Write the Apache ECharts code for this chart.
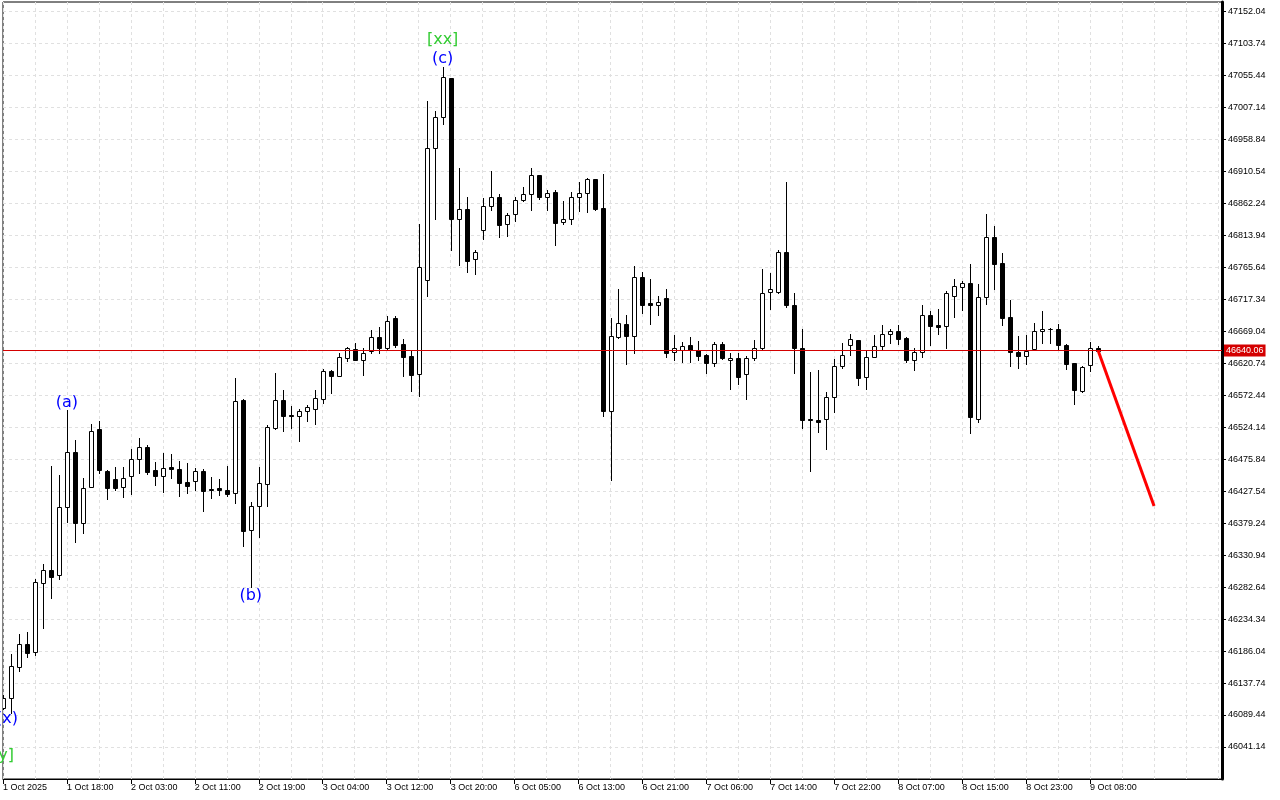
<!DOCTYPE html>
<html>
<head>
<meta charset="utf-8">
<script src="https://cdn.jsdelivr.net/npm/echarts@6/dist/echarts.min.js"></script>
<style>
html,body{margin:0;padding:0;background:#fff;}
#chart{width:1280px;height:800px;}
</style>
</head>
<body>
<div id="chart"></div>
<script>
// ---- DATA (hourly candles, index 0 = 1 Oct 2025 10:00) ----
const openP = [
46100.0,46115.1,46162.0,46196.7,46184.6,46288.9,46308.5,46301.0,46403.7,46486.8,
46379.5,46433.9,46521.5,46458.1,46446.0,46433.9,46450.5,46476.2,46494.3,46459.6,
46450.5,46463.4,46461.1,46441.5,46443.0,46458.1,46430.9,46432.4,46429.4,46424.9,
46565.4,46369.0,46405.2,46438.4,46523.1,46565.4,46543.4,46541.9,46548.7,46551.8,
46566.9,46609.2,46601.6,46628.8,46642.4,46625.8,46639.4,46660.5,46643.9,46689.2,
46650.0,46631.8,46604.6,46746.6,46946.1,46992.9,47051.8,46838.8,46853.9,46778.4,
46822.2,46858.5,46872.0,46831.3,46846.4,46867.5,46876.6,46905.3,46872.0,46879.6,
46834.3,46838.8,46872.0,46878.1,46899.2,46855.4,46548.7,46660.5,46680.2,46662.0,
46751.2,46711.9,46708.9,46719.5,46637.9,46640.9,46648.4,46640.9,46633.3,46621.3,
46650.0,46625.8,46628.8,46604.6,46628.8,46643.9,46728.5,46728.5,46789.0,46708.9,
46643.9,46536.6,46535.1,46536.6,46569.9,46616.7,46648.4,46656.0,46600.1,46630.3,
46646.9,46665.1,46669.6,46659.0,46625.8,46637.9,46693.8,46678.7,46677.2,46722.5,
46736.1,46742.1,46536.6,46721.0,46811.6,46772.3,46690.8,46637.9,46631.8,46642.4,
46669.6,46672.6,46672.6,46648.4,46621.3,46579.0,46618.2,46643.2
];
const closeP = [
46115.1,46163.5,46196.7,46183.1,46290.4,46308.5,46297.9,46403.7,46486.8,46379.5,
46432.4,46518.5,46459.6,46432.4,46432.4,46447.5,46476.2,46494.3,46456.6,46450.5,
46462.6,46460.4,46440.0,46435.4,46458.1,46427.9,46429.4,46429.4,46423.3,46563.8,
46367.4,46405.2,46440.0,46524.6,46565.4,46541.2,46541.9,46548.7,46554.8,46568.4,
46609.2,46601.6,46630.3,46643.9,46625.8,46636.4,46660.5,46643.9,46684.7,46648.4,
46630.3,46603.1,46766.3,46946.1,46992.9,47053.3,46838.8,46853.9,46775.4,46789.0,
46858.5,46872.0,46829.7,46844.9,46867.5,46876.6,46905.3,46872.0,46878.1,46832.8,
46838.8,46872.0,46878.1,46899.2,46853.9,46548.7,46662.0,46681.7,46662.0,46751.2,
46708.9,46708.9,46713.4,46636.4,46643.9,46646.9,46640.9,46631.8,46621.3,46650.0,
46628.8,46628.8,46600.1,46628.8,46643.9,46727.0,46733.1,46789.0,46708.9,46643.9,
46535.1,46535.1,46532.1,46569.9,46616.7,46633.3,46657.5,46598.6,46630.3,46646.9,
46665.1,46669.6,46657.5,46625.8,46637.9,46693.8,46677.2,46675.6,46727.0,46737.6,
46742.1,46539.7,46721.0,46811.6,46770.8,46689.2,46637.9,46631.8,46639.4,46669.6,
46672.6,46671.9,46648.4,46619.7,46580.5,46615.2,46643.9,46640.06
];
const highP = [
46119.7,46181.6,46211.8,46214.8,46294.9,46317.6,46465.6,46452.0,46550.2,46504.9,
46447.5,46529.1,46533.6,46459.6,46464.1,46464.1,46491.3,46507.9,46497.4,46471.7,
46485.3,46483.8,46473.2,46470.2,46462.6,46461.1,46449.0,46446.0,46465.6,46598.6,
46566.9,46411.3,46464.1,46527.6,46606.1,46580.5,46556.3,46551.8,46557.8,46580.5,
46612.2,46610.7,46636.4,46645.4,46651.5,46643.9,46671.1,46675.6,46692.3,46692.3,
46657.5,46640.9,46831.3,47017.1,47002.0,47068.5,47051.8,46915.9,46872.0,46792.0,
46870.5,46911.3,46876.6,46847.9,46872.0,46887.2,46915.9,46905.3,46882.6,46882.6,
46866.0,46879.6,46894.7,46900.8,46899.2,46906.8,46689.2,46733.1,46693.8,46767.8,
46758.7,46748.2,46722.5,46733.1,46663.6,46653.0,46660.5,46654.5,46634.9,46653.0,
46653.0,46636.4,46636.4,46631.8,46656.0,46763.3,46757.2,46792.0,46894.7,46727.0,
46672.6,46607.7,46610.7,46577.4,46627.3,46651.5,46665.1,46656.0,46640.9,46663.6,
46678.7,46672.6,46678.7,46660.5,46643.9,46708.9,46699.8,46702.8,46730.0,46748.2,
46745.1,46770.8,46740.6,46846.4,46828.2,46787.4,46716.4,46662.0,46663.6,46681.7,
46699.8,46673.4,46680.2,46650.0,46621.3,46616.7,46653.0,46646.9
];
const lowP = [
46098.5,46092.5,46155.9,46177.1,46180.1,46220.9,46266.2,46294.9,46381.0,46350.8,
46364.4,46433.9,46455.1,46415.8,46429.4,46418.8,46423.3,46455.1,46453.6,46436.9,
46426.4,46447.5,46420.3,46424.9,46429.4,46397.7,46417.3,46421.8,46420.3,46409.7,
46344.8,46282.8,46358.4,46405.2,46521.5,46518.5,46523.1,46503.4,46533.6,46529.1,
46560.8,46575.9,46601.6,46624.3,46625.8,46603.1,46636.4,46636.4,46640.9,46645.4,
46601.6,46579.0,46571.4,46722.5,46838.8,46982.3,46792.0,46769.3,46758.7,46755.7,
46808.6,46852.4,46811.6,46813.1,46835.8,46866.0,46852.4,46869.0,46852.4,46799.5,
46831.3,46831.3,46850.9,46849.4,46852.4,46541.2,46444.5,46659.0,46619.7,46636.4,
46696.8,46680.2,46693.8,46630.3,46625.8,46622.8,46622.8,46625.8,46606.1,46616.7,
46627.3,46582.0,46589.5,46566.9,46625.8,46642.4,46702.8,46727.0,46705.9,46606.1,
46523.1,46458.1,46517.0,46491.3,46547.2,46613.7,46633.3,46588.0,46582.0,46630.3,
46640.9,46651.5,46650.0,46622.8,46610.7,46630.3,46648.4,46665.1,46643.9,46690.8,
46701.3,46515.5,46532.1,46710.4,46733.1,46678.7,46616.7,46613.7,46619.7,46640.9,
46651.5,46651.5,46640.9,46612.2,46559.3,46577.4,46609.2,46640.06
];
const xLabels = ["1 Oct 2025","1 Oct 18:00","2 Oct 03:00","2 Oct 11:00","2 Oct 19:00","3 Oct 04:00",
  "3 Oct 12:00","3 Oct 20:00","6 Oct 05:00","6 Oct 13:00","6 Oct 21:00","7 Oct 06:00","7 Oct 14:00",
  "7 Oct 22:00","8 Oct 07:00","8 Oct 15:00","8 Oct 23:00","9 Oct 08:00"];
const xLabelIndex = [0,8,16,24,32,40,48,56,64,72,80,88,96,104,112,120,128,136];
const yTicks = [46041.14,46089.44,46137.74,46186.04,46234.34,46282.64,46330.94,46379.24,46427.54,
  46475.84,46524.14,46572.44,46620.74,46669.04,46717.34,46765.64,46813.94,46862.24,46910.54,
  46958.84,47007.14,47055.44,47103.74,47152.04];
const lastPrice = 46640.06;
const forecastIdx = [137, 144];
const forecastPrice = [46640.06, 46405.2];
const waveText = ["(x)", "[y]", "(a)", "(b)", "(c)", "[xx]"];
const waveIdx = [0, 0, 8, 31, 55, 55];
const waveAnchor = ["low", "low", "high", "low", "high", "high"];

// ---- styling for wave labels (screen offsets, colours) ----
const BLUE = '#0000ff', GREEN = '#33cc33';
const waveLook = {
  "(x)": {dx: 4, dy: 10, color: BLUE},
  "[y]": {dx: 0, dy: 47, color: GREEN},
  "(a)": {dx: 0, dy: -7, color: BLUE},
  "(b)": {dx: 0, dy: 9, color: BLUE},
  "(c)": {dx: 0, dy: -8, color: BLUE},
  "[xx]": {dx: 0, dy: -27, color: GREEN}
};

const candleData = openP.map((o, i) => [i, o, closeP[i], lowP[i], highP[i]]);
const waveData = waveText.map((t, k) => {
  const i = waveIdx[k];
  return { name: t, value: [i, waveAnchor[k] === 'high' ? highP[i] : lowP[i]] };
});
const forecastData = forecastIdx.map((x, k) => [x, forecastPrice[k]]);

const Y_MIN = 45992.76, Y_MAX = 47166.65;
const X_MIN = 0, X_MAX = 152.5;

function renderCandle(params, api) {
  const i = api.value(0), o = api.value(1), c = api.value(2), l = api.value(3), h = api.value(4);
  const po = api.coord([i, o]), pc = api.coord([i, c]);
  const ph = api.coord([i, h]), pl = api.coord([i, l]);
  const x = Math.round(po[0]) + 0.5;
  const top = Math.round(Math.min(po[1], pc[1])) + 0.5;
  const bot = Math.round(Math.max(po[1], pc[1])) + 0.5;
  const bull = c >= o;
  return {
    type: 'group',
    children: [
      { type: 'line', shape: { x1: x, y1: Math.round(ph[1]), x2: x, y2: Math.round(pl[1]) + 1 },
        style: { stroke: '#000', lineWidth: 1 } },
      { type: 'rect', shape: { x: x - 2, y: top, width: 4, height: Math.max(bot - top, 0) },
        style: { fill: bull ? '#fff' : '#000', stroke: '#000', lineWidth: 1 } }
    ]
  };
}

function renderWave(params, api) {
  const name = waveData[params.dataIndex].name;
  const look = waveLook[name];
  const p = api.coord([api.value(0), api.value(1)]);
  return {
    type: 'text',
    x: p[0] + look.dx,
    y: p[1] + look.dy,
    style: {
      text: name, fill: look.color,
      font: '16px "DejaVu Sans"',
      align: 'center', verticalAlign: 'middle'
    }
  };
}

const gridLine = { show: true, lineStyle: { color: '#e0e0e0', width: 1, type: [3, 3] } };

const option = {
  animation: false,
  backgroundColor: '#fff',
  grid: { left: 2, right: 58, top: 2, bottom: 21, show: true, borderColor: '#000', borderWidth: 1, backgroundColor: '#fff' },
  xAxis: [
    {
      type: 'value', min: X_MIN, max: X_MAX, position: 'bottom',
      axisLine: { show: true, onZero: false, lineStyle: { color: '#000', width: 1 } },
      axisTick: { show: true, customValues: xLabelIndex, length: 5, lineStyle: { color: '#000' } },
      axisLabel: {
        customValues: xLabelIndex,
        formatter: v => xLabels[xLabelIndex.indexOf(Math.round(v))],
        align: 'left', color: '#000', fontFamily: 'Liberation Sans', fontSize: 9, margin: 4
      },
      splitLine: { show: false }
    },
    {
      type: 'value', min: X_MIN, max: X_MAX, interval: 4, position: 'bottom',
      axisLine: { show: false, onZero: false }, axisTick: { show: false }, axisLabel: { show: false },
      splitLine: gridLine
    }
  ],
  yAxis: {
    type: 'value', position: 'right', min: Y_MIN, max: Y_MAX, scale: true,
    axisLine: { show: true, onZero: false, lineStyle: { color: '#000', width: 3 } },
    axisTick: { show: true, customValues: yTicks, length: 4, lineStyle: { color: '#000' } },
    axisLabel: {
      customValues: yTicks, formatter: v => Number(v).toFixed(2),
      color: '#000', fontFamily: 'Liberation Sans', fontSize: 9, margin: 6
    },
    splitLine: gridLine
  },
  series: [
    {
      type: 'custom', name: 'candles', xAxisIndex: 0, yAxisIndex: 0,
      renderItem: renderCandle, data: candleData, clip: true, z: 3,
      encode: { x: 0, y: [1, 2, 3, 4] }
    },
    {
      type: 'line', name: 'forecast', xAxisIndex: 0, yAxisIndex: 0,
      data: forecastData, showSymbol: false, symbol: 'none', z: 6,
      lineStyle: { color: '#ff0000', width: 3 },
      markLine: {
        silent: true, symbol: ['none', 'none'], z: 5,
        data: [{ yAxis: lastPrice }],
        lineStyle: { color: '#d40000', width: 1, type: 'solid' },
        label: {
          show: true, position: 'end', formatter: lastPrice.toFixed(2),
          color: '#fff', backgroundColor: '#d40000', fontFamily: 'Liberation Sans', fontSize: 9,
          padding: [2, 2, 1, 2], distance: 2
        }
      }
    },
    {
      type: 'custom', name: 'waves', xAxisIndex: 0, yAxisIndex: 0,
      renderItem: renderWave, data: waveData, clip: false, z: 7,
      encode: { x: 0, y: 1 }
    }
  ]
};

const chart = echarts.init(document.getElementById('chart'), null, { renderer: 'canvas' });
chart.setOption(option);
</script>
</body>
</html>
